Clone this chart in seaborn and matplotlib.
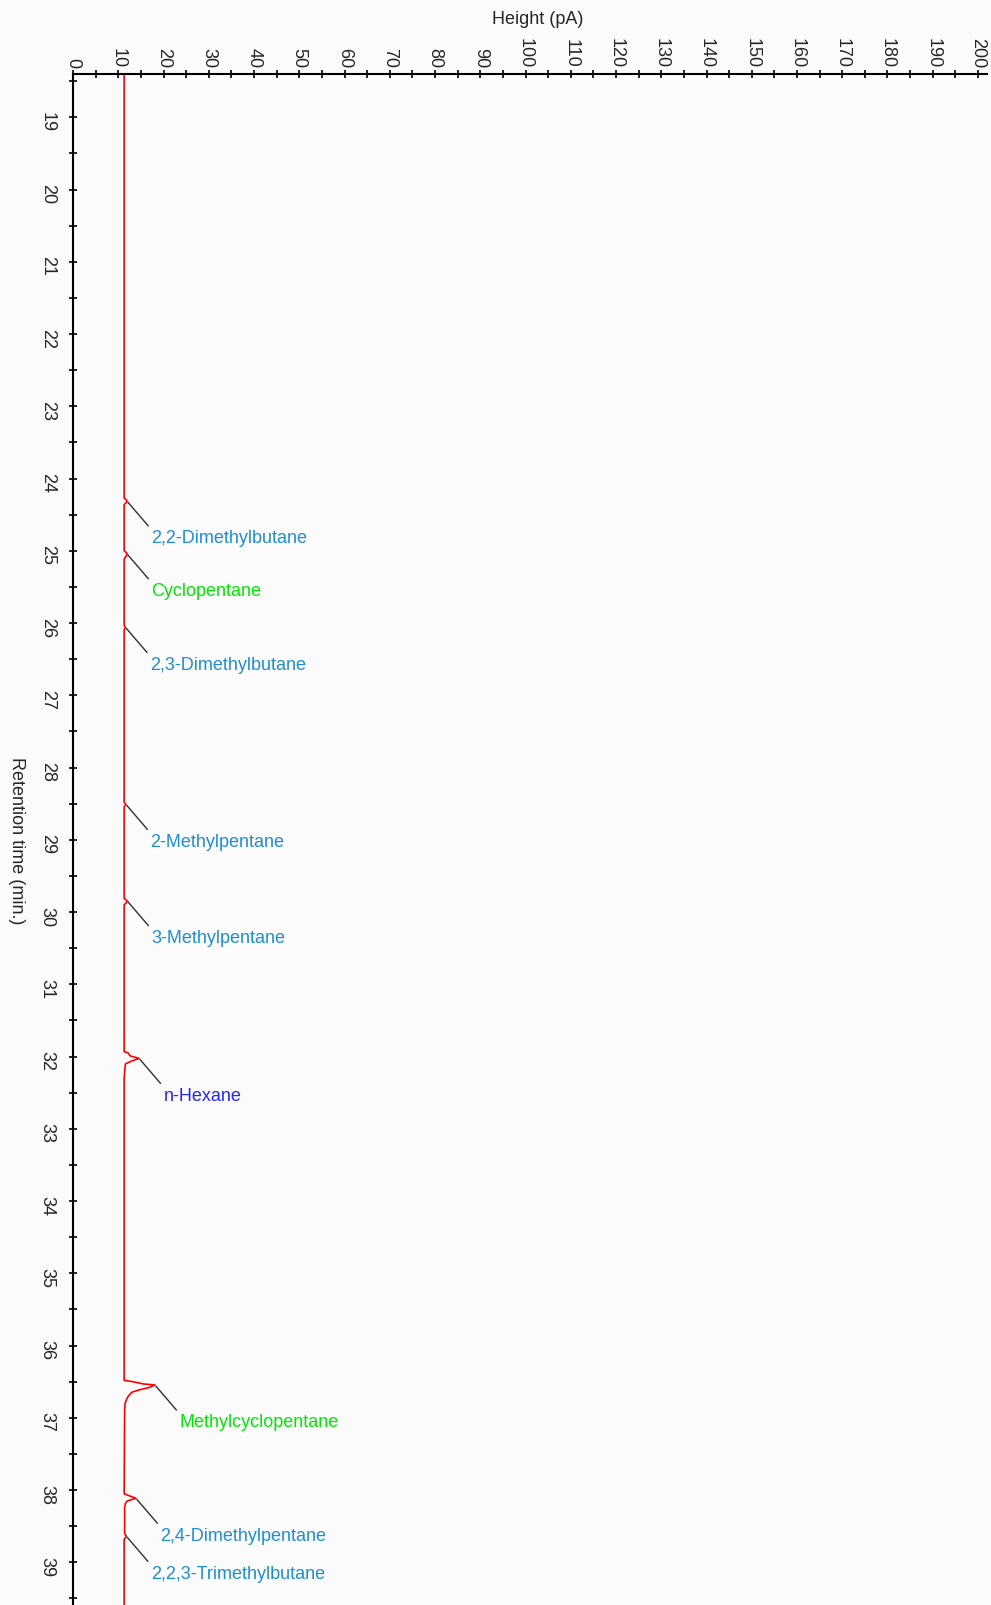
import numpy as np
import pandas as pd
import matplotlib.pyplot as plt
import seaborn as sns
from matplotlib.ticker import MultipleLocator

# chromatogram trace (retention time in min, signal in pA)
trace_time = [18.40, 24.27, 24.30, 24.33, 24.36, 25.00, 25.03, 25.07, 25.10, 25.13,
              26.03, 26.06, 26.09, 28.48, 28.51, 28.54, 29.81, 29.84, 29.87, 29.90,
              31.93, 31.95, 31.99, 32.025, 32.06, 32.10, 32.14, 32.30,
              36.48, 36.50, 36.53, 36.545, 36.58, 36.61, 36.645, 36.70, 36.75, 36.80, 36.90,
              38.05, 38.08, 38.113, 38.15, 38.18, 38.24, 38.60, 38.64, 38.68, 39.60]
trace_signal = [11.3, 11.3, 11.9, 11.8, 11.3, 11.3, 11.9, 11.8, 11.4, 11.3,
                11.3, 11.6, 11.3, 11.3, 11.7, 11.3, 11.3, 11.9, 11.8, 11.3,
                11.3, 12.2, 12.6, 14.6, 13.0, 11.6, 11.5, 11.3,
                11.3, 13.3, 15.5, 18.1, 16.8, 14.8, 13.0, 12.2, 11.8, 11.5, 11.4,
                11.3, 12.5, 13.9, 12.0, 11.6, 11.4, 11.4, 11.8, 11.3, 11.3]

# identified peaks
peak_names = ['2,2-Dimethylbutane', 'Cyclopentane', '2,3-Dimethylbutane', '2-Methylpentane',
              '3-Methylpentane', 'n-Hexane', 'Methylcyclopentane', '2,4-Dimethylpentane',
              '2,2,3-Trimethylbutane']
peak_time = [24.31, 25.04, 26.06, 28.51, 29.84, 32.025, 36.545, 38.113, 38.64]
peak_height = [11.9, 11.9, 11.6, 11.7, 11.9, 14.6, 18.1, 13.9, 11.8]
peak_colors = ['#1E8ED4', '#00E800', '#1E8ED4', '#1E8ED4', '#1E8ED4', '#2424FF',
               '#00E800', '#1E8ED4', '#1E8ED4']

df = pd.DataFrame({'time': trace_time, 'signal': trace_signal})

sns.set_theme(style='white')
plt.rcParams['font.family'] = ['Liberation Sans', 'DejaVu Sans']

fig = plt.figure(figsize=(9.91, 16.06), dpi=100, facecolor='#FBFBFB')
ax = fig.add_axes([0.0737, 0.0, 0.9223, 0.9533])
ax.set_facecolor('#FBFBFB')

sns.lineplot(data=df, x='signal', y='time', orient='y', estimator=None,
             color='#FF0000', linewidth=1.2, ax=ax)

for name, t, h, c in zip(peak_names, peak_time, peak_height, peak_colors):
    ax.annotate(name, xy=(h, t), xytext=(17.5, -26.5), textcoords='offset points',
                ha='left', va='center', fontsize=13, color=c,
                arrowprops=dict(arrowstyle='-', color='#303030', lw=1.0,
                                relpos=(0, 1), shrinkA=0, shrinkB=1))

ax.set_xlim(0, 202)
ax.xaxis.set_major_locator(MultipleLocator(10))
ax.xaxis.set_minor_locator(MultipleLocator(5))
ax.yaxis.set_minor_locator(MultipleLocator(0.5))
ax.xaxis.tick_top()
ax.xaxis.set_label_position('top')

for s in ['right', 'bottom']:
    ax.spines[s].set_visible(False)
for s in ['top', 'left']:
    ax.spines[s].set_color('black')
    ax.spines[s].set_linewidth(1.5)

ax.tick_params(axis='x', which='both', direction='inout', length=6, width=1.2,
               color='black', top=True, bottom=False, pad=2)
ax.tick_params(axis='x', which='major', labelsize=13, labelrotation=-90)
ax.tick_params(axis='y', which='both', direction='inout', length=6, width=1.2,
               color='black', left=True, pad=9.5)
ax.tick_params(axis='y', which='major', labelsize=13, labelrotation=-90)
ax.set_yticks(np.arange(19, 40, 1))
ax.set_ylim(39.59, 18.40)

ax.set_xlabel('Height (pA)', fontsize=13)
ax.set_ylabel('Retention time (min.)', fontsize=13, rotation=-90)
ax.xaxis.set_label_coords(0.508, 1.0333)
ax.yaxis.set_label_coords(-0.071, 0.5)
ax.grid(False)

plt.savefig('out.png', dpi=100, facecolor=fig.get_facecolor())
